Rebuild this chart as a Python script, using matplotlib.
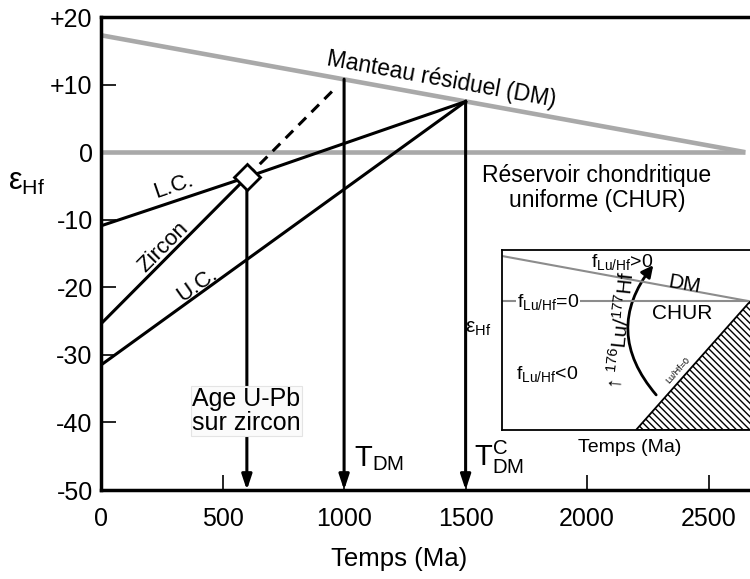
import numpy as np
import matplotlib.pyplot as plt
from matplotlib.patches import Polygon, FancyArrowPatch

plt.rcParams['font.family'] = ['Liberation Sans', 'DejaVu Sans']
plt.rcParams['mathtext.fontset'] = 'custom'
plt.rcParams['mathtext.rm'] = 'Liberation Sans'
plt.rcParams['mathtext.it'] = 'Liberation Sans:italic'

# reservoirs (Ma, epsilon Hf)
dm_t = [0, 2650]
dm_eps = [17.3, 0.0]
chur_t = [0, 2650]
chur_eps = [0.0, 0.0]

# zircon + crustal evolution lines
zircon_age = 600
zircon_eps = -3.7
lc_t = [0, 600, 1500]
lc_eps = [-10.9, -3.7, 7.5]
zr_t = [0, 600]
zr_eps = [-25.4, -3.7]
zr_dash_t = [600, 970]
zr_dash_eps = [-3.7, 9.7]
uc_t = [0, 1500]
uc_eps = [-31.5, 7.5]

# model ages (arrows down to the time axis)
arrow_t = [600, 1000, 1500]
arrow_top = [-3.7, 10.8, 7.5]

yticks = [20, 10, 0, -10, -20, -30, -40, -50]
ytick_labels = ['+20', '+10', '0', '-10', '-20', '-30', '-40', '-50']
xticks = [0, 500, 1000, 1500, 2000, 2500]

fig = plt.figure(figsize=(7.5, 5.79), dpi=100)
ax = fig.add_axes([0.1347, 0.1537, 0.8653, 0.8169])
ax.set_xlim(0, 2670)
ax.set_ylim(-50, 20)

gray = '#a9a9a9'
ax.plot(dm_t, dm_eps, color=gray, lw=3.3, solid_capstyle='butt')
ax.plot(chur_t, chur_eps, color=gray, lw=3.3, solid_capstyle='butt')

ax.plot(lc_t, lc_eps, color='black', lw=2.2)
ax.plot(zr_t, zr_eps, color='black', lw=2.2)
ax.plot(uc_t, uc_eps, color='black', lw=2.2)
ax.plot(zr_dash_t, zr_dash_eps, color='black', lw=2.2, ls=(0, (3.5, 2.5)))

for t, top in zip(arrow_t, arrow_top):
    ax.annotate('', xy=(t, -50), xytext=(t, top),
                arrowprops=dict(arrowstyle='-|>,head_length=0.9,head_width=0.3',
                                color='black', lw=2.2, shrinkA=0, shrinkB=0))

ax.plot([zircon_age], [zircon_eps], marker='D', ms=13, mfc='white',
        mec='black', mew=2, zorder=5)

ax.text(1400, 10.8, 'Manteau résiduel (DM)', rotation=-10.3, fontsize=16.5,
        ha='center', va='center', rotation_mode='anchor')
ax.text(2040, -5.3, 'Réservoir chondritique\nuniforme (CHUR)', fontsize=16.5,
        ha='center', va='center', linespacing=1.1)
ax.text(300, -5.0, 'L.C.', rotation=19, fontsize=16, ha='center', va='center',
        rotation_mode='anchor')
ax.text(255, -14.0, 'Zircon', rotation=45, fontsize=16, ha='center', va='center',
        rotation_mode='anchor')
ax.text(395, -19.6, 'U.C.', rotation=35, fontsize=16, ha='center', va='center',
        rotation_mode='anchor')
ax.text(597, -38.3, 'Age U-Pb\nsur zircon', fontsize=18, ha='center', va='center',
        linespacing=1.0,
        bbox=dict(boxstyle='square,pad=0.05', fc='#fbfbfb', ec='#e4e4e4', lw=0.8))
ax.text(1040, -46.5, r'T$_{\mathregular{DM}}$', fontsize=21, ha='left', va='baseline')
ax.text(1535, -46.5, r'T$^{\mathregular{C}}_{\mathregular{DM}}$', fontsize=21,
        ha='left', va='baseline')

ax.set_yticks(yticks)
ax.set_yticklabels(ytick_labels)
ax.set_xticks(xticks)
ax.tick_params(direction='in', length=11, width=1.2, labelsize=18, pad=6)
ax.tick_params(axis='x', pad=12)
for s in ['left', 'bottom', 'top']:
    ax.spines[s].set_linewidth(2.5)
ax.spines['right'].set_visible(False)
ax.set_xlabel('Temps (Ma)', fontsize=18.5)
ax.xaxis.set_label_coords(0.46, -0.12)
ax.set_ylabel('ε$_{\\mathregular{Hf}}$', fontsize=22, rotation=0, va='center')
ax.yaxis.set_label_coords(-0.115, 0.652)

# inset: f Lu/Hf sketch (coordinates in inset units)
ins = fig.add_axes([502 / 750, 149 / 579, 250 / 750, 180 / 579])
ins.set_xlim(0, 250)
ins.set_ylim(0, 180)
ins.set_xticks([])
ins.set_yticks([])
for s in ins.spines.values():
    s.set_linewidth(1.3)
ins.spines['right'].set_visible(False)
ins.plot([0, 246], [174, 129], color='#8c8c8c', lw=1.5)
ins.plot([0, 246], [129, 129], color='#8c8c8c', lw=1.5)
ins.add_patch(Polygon([(134, 0), (252, 0), (252, 133)], closed=True, fc='white',
                      ec='black', lw=1.3, hatch='\\\\\\\\\\'))
ins.add_patch(FancyArrowPatch((156, 33), (153, 167),
                              connectionstyle='arc3,rad=-0.42',
                              arrowstyle='-|>,head_length=7,head_width=3.5',
                              color='black', lw=2))
ins.text(120, 168, r'f$_{\mathregular{Lu/Hf}}$>0', fontsize=14, ha='center', va='center')
ins.text(182, 146, 'DM', fontsize=15, ha='center', va='center', rotation=-10)
ins.text(46, 128, r'f$_{\mathregular{Lu/Hf}}$=0', fontsize=14, ha='center', va='center',
         bbox=dict(boxstyle='square,pad=0.05', fc='white', ec='none'))
ins.text(180, 117, 'CHUR', fontsize=15, ha='center', va='center')
ins.text(45, 56, r'f$_{\mathregular{Lu/Hf}}$<0', fontsize=14, ha='center', va='center')
ins.text(176, 60, 'Lu/Hf=0', fontsize=6.5, ha='center', va='center', rotation=48.6,
         rotation_mode='anchor')
ins.text(119, 100, r'↑ $^{176}$Lu/$^{177}$Hf', fontsize=15, ha='center', va='center',
         rotation=84, rotation_mode='anchor')
ins.text(-24, 102, 'ε$_{\\mathregular{Hf}}$', fontsize=15, ha='center', va='center')
ins.text(128, -17, 'Temps (Ma)', fontsize=14, ha='center', va='center')

fig.savefig('out.png', dpi=100)
